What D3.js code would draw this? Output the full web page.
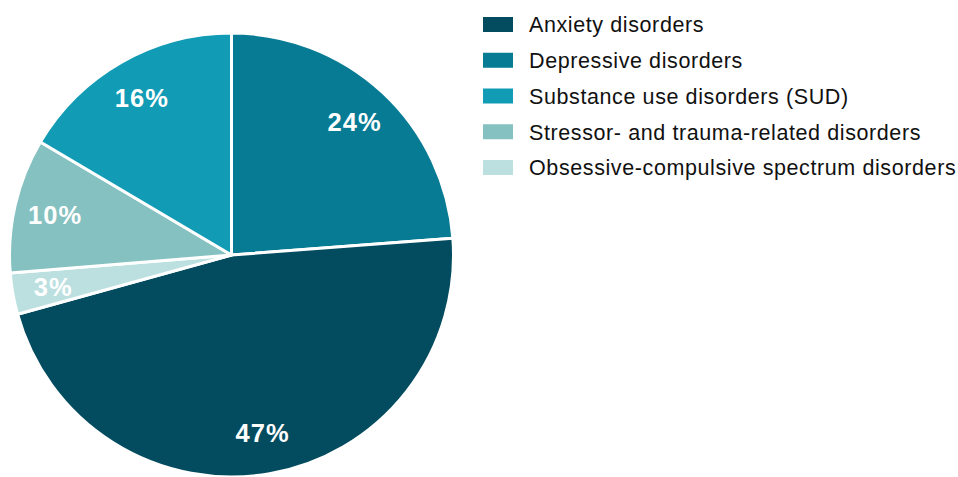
<!DOCTYPE html>
<html><head><meta charset="utf-8">
<script src="https://cdn.jsdelivr.net/npm/d3@7/dist/d3.min.js"></script>
<style>body{margin:0;background:#fff;}svg{display:block;}</style>
</head><body>
<svg id="chart" width="958" height="477"></svg>
<script>
const categories = ["Anxiety disorders","Depressive disorders","Substance use disorders (SUD)","Stressor- and trauma-related disorders","Obsessive-compulsive spectrum disorders"];
const values = [46.9, 23.8, 16.5, 9.8, 3.0];
const labels = ["47%","24%","16%","10%","3%"];
const colors = ["#034b5f","#077b94","#119bb5","#85c1c0","#bcdfe0"];
const pieOrder = [1, 0, 4, 3, 2]; // clockwise from 12 o'clock

const svg = d3.select("#chart");
const cx = 231.5, cy = 255, r = 222;
const data = categories.map((c,i)=>({name:c, value:values[i], label:labels[i], color:colors[i]}));
const ordered = pieOrder.map(i=>data[i]);
const pie = d3.pie().value(d=>d.value).sort(null);
const arcs = pie(ordered);
const arc = d3.arc().innerRadius(0).outerRadius(r);
const labelArc = d3.arc().innerRadius(181).outerRadius(181);
const g = svg.append("g").attr("transform",`translate(${cx},${cy})`);
g.selectAll("path").data(arcs).join("path")
  .attr("d", arc).attr("fill", d=>d.data.color)
  .attr("stroke","#fff").attr("stroke-width",3).attr("stroke-linejoin","round");
g.selectAll("text").data(arcs).join("text")
  .attr("transform", d=>`translate(${labelArc.centroid(d)})`)
  .attr("text-anchor","middle").attr("dy","0.36em")
  .attr("fill","#fff").attr("font-family","Liberation Sans, Arial, sans-serif")
  .attr("font-weight","bold").attr("font-size",25.5).attr("letter-spacing","1px")
  .text(d=>d.data.label);

const leg = svg.append("g");
const rows = leg.selectAll("g").data(data).join("g")
  .attr("transform",(d,i)=>`translate(483,${17 + i*35.75})`);
rows.append("rect").attr("width",30).attr("height",15).attr("fill",d=>d.color);
rows.append("text").attr("x",46).attr("y",7.5).attr("dy","0.36em")
  .attr("font-family","Liberation Sans, Arial, sans-serif").attr("font-size",21.5)
  .attr("letter-spacing","0.6px")
  .attr("fill","#111").text(d=>d.name);
</script>
</body></html>
